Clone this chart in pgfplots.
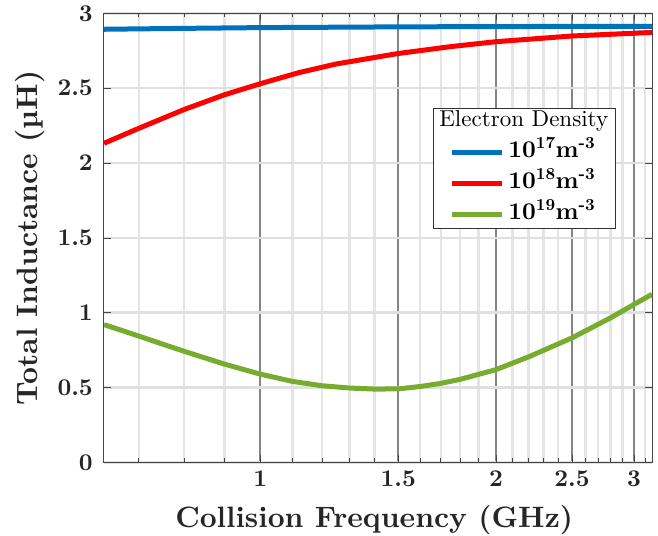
\documentclass[border=0pt]{standalone}
\usepackage{fontspec}
\setmainfont{lmroman10}[Extension=.otf, UprightFont=*-regular, BoldFont=*-bold, ItalicFont=*-italic, BoldItalicFont=*-bolditalic]
\usepackage{pgfplots}
\pgfplotsset{compat=1.18}
\definecolor{mblue}{RGB}{0,114,189}
\definecolor{mred}{RGB}{255,0,0}
\definecolor{mgreen}{RGB}{119,172,48}
\definecolor{axgray}{RGB}{70,70,70}
\begin{document}
\begin{tikzpicture}
\begin{axis}[
  scale only axis,
  width=548pt, height=449pt,
  xmode=log,
  xmin=0.632, xmax=3.162,
  ymin=0, ymax=3,
  xtick={1,1.5,2,2.5,3},
  xticklabels={1,1.5,2,2.5,3},
  minor xtick={0.7,0.8,0.9,1.1,1.2,1.3,1.4,1.6,1.7,1.8,1.9,2.1,2.2,2.3,2.4,2.6,2.7,2.8,2.9,3.1},
  ytick={0,0.5,1,1.5,2,2.5,3},
  yticklabels={0,0.5,1,1.5,2,2.5,3},
  tick align=inside,
  major tick length=7pt,
  minor tick length=4pt,
  every tick/.style={axgray, line width=0.8pt},
  axis line style={axgray, line width=1pt},
  grid=both,
  major x grid style={black!48, line width=1.6pt},
  minor x grid style={black!10, line width=2.5pt},
  major y grid style={black!12, line width=2.5pt},
  ticklabel style={font=\fontsize{24}{28}\selectfont\bfseries, text=black!85},
  xticklabel style={anchor=base, yshift=-24.5pt},
  yticklabel style={anchor=east, inner xsep=0pt, xshift=-11pt},
  xlabel={Collision Frequency (GHz)},
  ylabel={Total Inductance (µH)},
  label style={font=\fontsize{29.5}{34}\selectfont\bfseries, text=black!85},
  xlabel style={at={(axis description cs:0.493,-0.146)}, anchor=base},
  ylabel style={at={(axis description cs:-0.135,0.5)}, anchor=center},
  legend style={
    at={(0.934,0.790)}, anchor=north east,
    draw=black!80, line width=1pt, fill=white,
    inner xsep=16pt, inner ysep=2.75pt,
    row sep=8.8pt, column sep=0pt,
    font=\fontsize{24}{28}\selectfont,
    nodes={inner xsep=4pt, inner ysep=0pt, text height=16pt, text depth=6pt},
  },
  legend cell align=left,
  legend image code/.code={\draw[#1, line width=5pt] (0pt,0pt) -- (50pt,0pt);},
]
\coordinate (ll) at (rel axis cs:0,0);
\coordinate (ur) at (rel axis cs:1,1);

\addlegendimage{empty legend}
\addlegendentry{\fontsize{23}{27}\selectfont\hspace*{-69pt}Electron Density\hspace*{-15pt}}

\addplot[mblue, line width=5pt] coordinates {
(0.632,2.894) (0.8,2.900) (1.0,2.905) (1.5,2.910) (2.0,2.912) (2.5,2.913) (3.162,2.914)
};
\addlegendentry{\textbf{10\textsuperscript{17}m\textsuperscript{-3}}}

\addplot[mred, line width=5pt] coordinates {
(0.632,2.132) (0.7,2.232) (0.8,2.358) (0.9,2.456) (1.0,2.530) (1.12,2.604) (1.25,2.662)
(1.5,2.732) (1.75,2.778) (2.0,2.811) (2.5,2.849) (3.162,2.873)
};
\addlegendentry{\textbf{10\textsuperscript{18}m\textsuperscript{-3}}}

\addplot[mgreen, line width=5pt] coordinates {
(0.632,0.921) (0.7,0.844) (0.8,0.742) (0.9,0.657) (1.0,0.590) (1.1,0.541) (1.2,0.512)
(1.3,0.497) (1.4,0.490) (1.5,0.491) (1.6,0.507) (1.7,0.528) (1.8,0.555) (2.0,0.620)
(2.2,0.705) (2.5,0.832) (2.8,0.966) (3.0,1.056) (3.162,1.123)
};
\addlegendentry{\textbf{10\textsuperscript{19}m\textsuperscript{-3}}}
\end{axis}
\path (ll) ++(-104pt,-73.5pt) coordinate (bl);
\path (ur) ++(6pt,13.4pt) coordinate (tr);
\pgfresetboundingbox
\path (bl) rectangle (tr);
\end{tikzpicture}
\end{document}
